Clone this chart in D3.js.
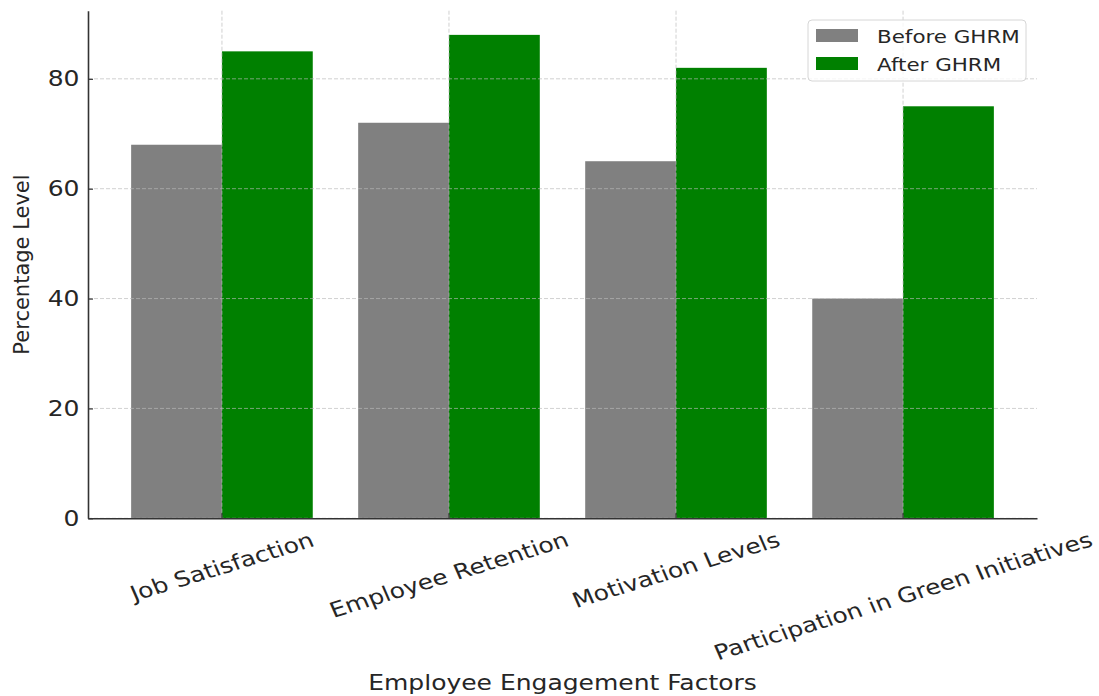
<!DOCTYPE html>
<html>
<head>
<meta charset="utf-8">
<script src="https://cdn.jsdelivr.net/npm/d3@7"></script>
<style>
  body { margin: 0; background: #fff; }
  svg { display: block; font-family: "DejaVu Sans", sans-serif; }
</style>
</head>
<body>
<svg id="chart"></svg>
<script>
const categories = ["Job Satisfaction", "Employee Retention", "Motivation Levels", "Participation in Green Initiatives"];
const seriesNames = ["Before GHRM", "After GHRM"];
const beforeValues = [68, 72, 65, 40];
const afterValues = [85, 88, 82, 75];
const yTicks = [0, 20, 40, 60, 80];
const seriesColors = ["#808080", "#008000"];

const width = 1099;
const height = 696;
const margin = { top: 10.7, right: 62, bottom: 177.7, left: 88 };
const textColor = "#262626";
const sx = 1.19; // the original picture is a bit wider than tall, text looks stretched

const svg = d3.select("#chart").attr("width", width).attr("height", height);

const rows = categories.map((c, i) => ({ cat: c, vals: [beforeValues[i], afterValues[i]] }));

const x = d3.scaleBand()
  .domain(categories)
  .range([margin.left, width - margin.right])
  .paddingInner(0.2)
  .paddingOuter(0.19);

const xSub = d3.scaleBand()
  .domain(seriesNames)
  .range([0, x.bandwidth()]);

const y = d3.scaleLinear()
  .domain([0, 92.4])
  .range([height - margin.bottom, margin.top]);

// bars
svg.append("g")
  .selectAll("g")
  .data(rows)
  .enter()
  .append("g")
  .attr("transform", d => `translate(${x(d.cat)},0)`)
  .selectAll("rect")
  .data(d => d.vals.map((v, j) => ({ name: seriesNames[j], v, j })))
  .enter()
  .append("rect")
  .attr("x", d => xSub(d.name))
  .attr("y", d => y(d.v))
  .attr("width", xSub.bandwidth())
  .attr("height", d => y(0) - y(d.v))
  .attr("fill", d => seriesColors[d.j]);

// grid (drawn over bars, like the original)
const grid = svg.append("g")
  .attr("stroke", "#b8b8b8")
  .attr("stroke-opacity", 0.65)
  .attr("stroke-width", 1)
  .attr("stroke-dasharray", "4,2");

grid.selectAll("line.h")
  .data(yTicks)
  .enter()
  .append("line")
  .attr("x1", margin.left)
  .attr("x2", width - margin.right)
  .attr("y1", d => y(d))
  .attr("y2", d => y(d));

grid.selectAll("line.v")
  .data(categories)
  .enter()
  .append("line")
  .attr("x1", d => x(d) + x.bandwidth() / 2)
  .attr("x2", d => x(d) + x.bandwidth() / 2)
  .attr("y1", margin.top)
  .attr("y2", height - margin.bottom);

// y axis
const yAxis = svg.append("g")
  .attr("transform", `translate(${margin.left},0)`)
  .call(d3.axisLeft(y).tickValues(yTicks).tickSizeInner(-5).tickSizeOuter(0).tickPadding(8));

yAxis.select(".domain").attr("stroke", "#333").attr("stroke-width", 1.6);
yAxis.selectAll(".tick line").attr("stroke", "#333").attr("stroke-width", 1.2);
yAxis.selectAll(".tick text")
  .attr("fill", textColor)
  .style("font-size", "21px")
  .style("font-family", "DejaVu Sans")
  .attr("x", 0)
  .attr("transform", `translate(-8.5,0) scale(${sx},1)`);

// x axis
const xAxis = svg.append("g")
  .attr("transform", `translate(0,${height - margin.bottom})`)
  .call(d3.axisBottom(x).tickSizeInner(-5).tickSizeOuter(0));

xAxis.select(".domain").attr("stroke", "#333").attr("stroke-width", 1.6);
xAxis.selectAll(".tick line").attr("stroke", "#333").attr("stroke-width", 1.2);

const angle = 20;
const rad = angle * Math.PI / 180;
const labelTop = 9;
xAxis.selectAll(".tick text")
  .attr("fill", textColor)
  .style("font-size", "21px")
  .style("font-family", "DejaVu Sans")
  .attr("text-anchor", "middle")
  .attr("dy", null)
  .attr("y", 0)
  .attr("dominant-baseline", "central")
  .each(function () {
    const b = this.getBBox();
    const H = b.width * Math.sin(rad) + b.height * Math.cos(rad);
    const cy = labelTop + H / 2;
    d3.select(this).attr("transform", `translate(0,${cy}) scale(${sx},1) rotate(${-angle})`);
  });

// axis titles
svg.append("text")
  .attr("transform", `translate(${(margin.left + width - margin.right) / 2},690) scale(${sx},1)`)
  .attr("text-anchor", "middle")
  .attr("fill", textColor)
  .style("font-size", "21px")
  .text("Employee Engagement Factors");

svg.append("text")
  .attr("transform", `translate(29,${(margin.top + height - margin.bottom) / 2}) rotate(-90)`)
  .attr("text-anchor", "middle")
  .attr("fill", textColor)
  .style("font-size", "21px")
  .text("Percentage Level");

// legend
const legend = svg.append("g").attr("transform", "translate(808,20)");
legend.append("rect")
  .attr("width", 218)
  .attr("height", 61)
  .attr("rx", 4)
  .attr("fill", "#fff")
  .attr("fill-opacity", 0.8)
  .attr("stroke", "#d6d6d6")
  .attr("stroke-width", 1);

seriesNames.forEach((name, i) => {
  const g = legend.append("g").attr("transform", `translate(8,${9 + i * 28})`);
  g.append("rect")
    .attr("width", 42)
    .attr("height", 13)
    .attr("fill", seriesColors[i]);
  g.append("text")
    .attr("transform", `translate(61,14) scale(${sx},1)`)
    .attr("fill", textColor)
    .style("font-size", "18px")
    .text(name);
});
</script>
</body>
</html>
